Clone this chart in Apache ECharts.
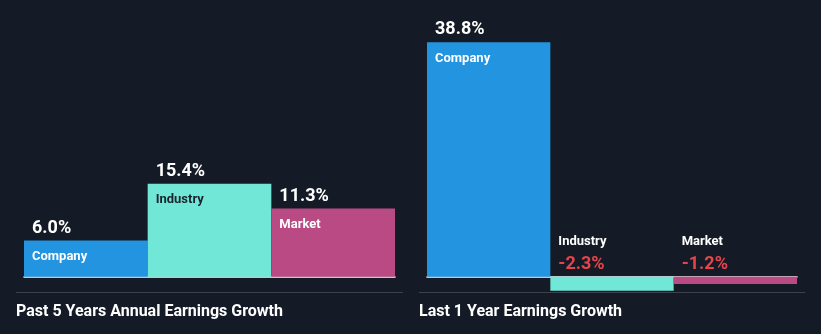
<!DOCTYPE html>
<html>
<head>
<meta charset="utf-8">
<script src="https://cdn.jsdelivr.net/npm/echarts@6/dist/echarts.min.js"></script>
<style>
  html, body { margin: 0; padding: 0; background: #151b26; }
  #chart { width: 821px; height: 334px; }
</style>
</head>
<body>
<div id="chart"></div>
<script>
// Earnings growth: company vs industry vs market
const categories = ['Company', 'Industry', 'Market'];
const past5Years = [6.0, 15.4, 11.3];
const last1Year = [38.8, -2.3, -1.2];
const panelTitles = ['Past 5 Years Annual Earnings Growth', 'Last 1 Year Earnings Growth'];

const barColors = ['#2394df', '#71e8d7', '#b94a84'];
const nameColors = ['#ffffff', '#1b2230', '#ffffff'];
const FONT = 'Roboto, "Noto Sans", sans-serif';

function pct(v) { return v.toFixed(1) + '%'; }

function buildItems(values) {
  return values.map((v, i) => {
    const positive = v >= 0;
    return {
      value: v,
      itemStyle: { color: barColors[i] },
      label: positive ? {
        show: true,
        position: [8, -27],
        align: 'left',
        verticalAlign: 'top',
        formatter: '{v|' + pct(v) + '}\n{c|' + categories[i] + '}',
        rich: {
          v: { color: '#ffffff', fontSize: 18, fontWeight: 'bold', fontFamily: FONT, lineHeight: 29, height: 29 },
          c: { color: nameColors[i], fontSize: 13, fontWeight: 'bold', fontFamily: FONT, lineHeight: 29, height: 29 }
        }
      } : {
        show: true,
        position: [8, -47],
        align: 'left',
        verticalAlign: 'top',
        formatter: '{c|' + categories[i] + '}\n{v|' + pct(v) + '}',
        rich: {
          c: { color: '#ffffff', fontSize: 13, fontWeight: 'bold', fontFamily: FONT, lineHeight: 23, height: 23 },
          v: { color: '#e8434a', fontSize: 18, fontWeight: 'bold', fontFamily: FONT, lineHeight: 23, height: 23 }
        }
      }
    };
  });
}

const chart = echarts.init(document.getElementById('chart'), null, { renderer: 'canvas' });

const yAxisBase = {
  type: 'value', min: -3, max: 40,
  show: false, splitLine: { show: false }
};
const xAxisBase = {
  type: 'category', data: categories,
  axisLine: { show: true, onZero: true, lineStyle: { color: '#ffffff', width: 1.5 } },
  axisTick: { show: false }, axisLabel: { show: false }, splitLine: { show: false }
};

chart.setOption({
  backgroundColor: '#151b26',
  animation: false,
  grid: [
    { left: 24, width: 371, top: 35, bottom: 39 },
    { left: 427, width: 370, top: 35, bottom: 39 }
  ],
  xAxis: [
    Object.assign({ gridIndex: 0 }, xAxisBase),
    Object.assign({ gridIndex: 1 }, xAxisBase)
  ],
  yAxis: [
    Object.assign({ gridIndex: 0 }, yAxisBase),
    Object.assign({ gridIndex: 1 }, yAxisBase)
  ],
  series: [
    { type: 'bar', xAxisIndex: 0, yAxisIndex: 0, barCategoryGap: '0%', data: buildItems(past5Years), z: 2 },
    { type: 'bar', xAxisIndex: 1, yAxisIndex: 1, barCategoryGap: '0%', data: buildItems(last1Year), z: 2 }
  ],
  graphic: [
    { type: 'line', shape: { x1: 16, y1: 292.5, x2: 403, y2: 292.5 }, style: { stroke: '#3d424c', lineWidth: 1 } },
    { type: 'line', shape: { x1: 419, y1: 292.5, x2: 805, y2: 292.5 }, style: { stroke: '#3d424c', lineWidth: 1 } },
    { type: 'text', x: 16, y: 312, style: { text: panelTitles[0], fill: '#ffffff', font: 'bold 16px ' + FONT, textVerticalAlign: 'middle' } },
    { type: 'text', x: 419, y: 312, style: { text: panelTitles[1], fill: '#ffffff', font: 'bold 16px ' + FONT, textVerticalAlign: 'middle' } }
  ]
});
</script>
</body>
</html>
